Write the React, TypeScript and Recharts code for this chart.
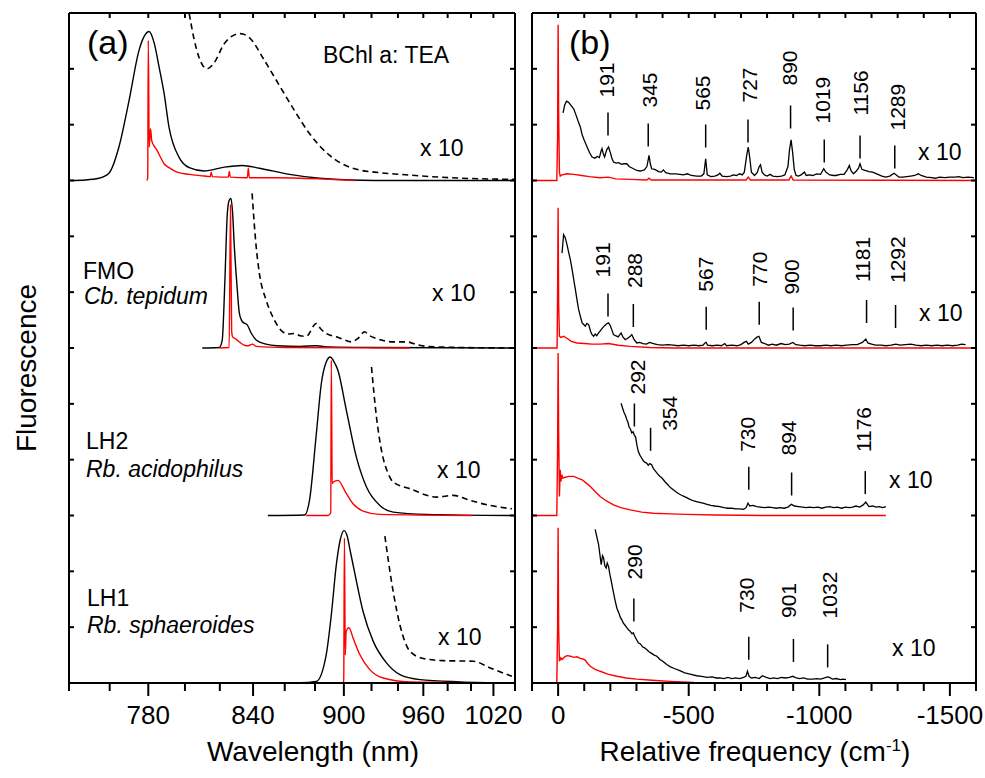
import React from "react"
import { LineChart, Line, XAxis, YAxis, ReferenceDot } from "recharts"

type Pt = [number, number]

const FONT = '"Liberation Sans", Arial, Helvetica, sans-serif'

// axis ticks
const nmTicks = [740, 760, 780, 800, 820, 840, 860, 880, 900, 920, 940, 960, 980, 1000, 1020, 1040]
const nmLabels = [780, 840, 900, 960, 1020]
const shiftTicks = [100, 0, -100, -200, -300, -400, -500, -600, -700, -800, -900, -1000, -1100, -1200, -1300, -1400, -1500, -1600]
const shiftLabels = [0, -500, -1000, -1500]
const yTicks = [0, 1, 2, 3, 4, 5, 6, 7, 8, 9, 10, 11, 12]

// (a) emission spectra, [wavelength nm, intensity]
const bchlSolid: Pt[] = [[739.5, 0], [748, 0.01], [754.6, 0.04], [759.6, 0.13], [764.7, 0.6], [769.9, 1.43], [775.1, 2.33], [777.8, 2.58], [780.4, 2.67], [783.1, 2.47], [785.8, 2.03], [788.5, 1.56], [791.2, 0.95], [796.8, 0.41], [802.4, 0.23], [810.9, 0.17], [822.6, 0.24], [833.4, 0.27], [843.9, 0.22], [863.1, 0.11], [883.1, 0.04], [904.1, 0.01], [941.5, 0], [1040, 0]]
const bchlX10: Pt[] = [[802.4, 2.99], [805, 2.55], [808, 2.2], [812.6, 2.0], [816.7, 2.11], [822.6, 2.45], [827, 2.58], [832.2, 2.63], [837.7, 2.56], [847.1, 2.15], [856.6, 1.7], [866.4, 1.25], [876.3, 0.84], [890, 0.45], [906.3, 0.22], [926.2, 0.14], [941.5, 0.11], [982, 0.05], [1039.5, 0.02]]
const bchlRed: Pt[] = [[779.3, 0], [779.7, 0.05], [780.0, 2.51], [780.5, 0.6], [781.2, 0.93], [781.8, 0.72], [783.1, 0.62], [784.7, 0.54], [786.5, 0.42], [788.5, 0.3], [791.2, 0.23], [795.6, 0.15], [802.4, 0.11], [810.9, 0.08], [814.4, 0.07], [815.0, 0.15], [815.6, 0.07], [825.0, 0.06], [825.6, 0.16], [826.2, 0.06], [836.5, 0.05], [837.1, 0.22], [837.7, 0.05], [853.4, 0.05], [883.1, 0.03], [907.7, 0]]

const fmoSolid: Pt[] = [[809.8, 0], [819.7, 0.01], [821.4, 0.14], [823.0, 1.22], [824.4, 2.4], [825.6, 2.65], [826.6, 2.68], [827.5, 2.45], [828.6, 1.82], [830.4, 1.04], [831.6, 0.63], [833.5, 0.47], [836.5, 0.41], [839.0, 0.26], [842.1, 0.14], [848, 0.07], [855, 0.04], [870, 0.03], [880.9, 0.04], [890, 0.02], [920, 0.01], [1040, 0]]
const fmoX10: Pt[] = [[839.4, 2.77], [841.9, 1.82], [843.9, 1.34], [848.1, 0.86], [852.3, 0.56], [858.7, 0.29], [862, 0.25], [866.4, 0.26], [870, 0.22], [874.1, 0.21], [880.9, 0.44], [884, 0.34], [887.7, 0.26], [894.7, 0.2], [900, 0.15], [905.4, 0.11], [910, 0.17], [915, 0.29], [918, 0.23], [923.7, 0.17], [936.3, 0.11], [946.7, 0.11], [955, 0.06], [962.7, 0.03], [990, 0.01], [1040, 0]]
const fmoRed: Pt[] = [[819.7, 0], [825.5, 0.01], [826.3, 2.56], [827.0, 0.3], [827.6, 0.2], [829.6, 0.16], [832, 0.1], [834.7, 0.05], [837, 0.04], [839.6, 0.07], [842, 0.03], [860, 0.01], [949.3, 0]]

const lh2Solid: Pt[] = [[849.2, 0], [873.0, 0.01], [876.3, 0.27], [880.9, 1.46], [884.3, 2.36], [887.7, 2.75], [890.5, 2.84], [892.5, 2.78], [895.8, 2.6], [901.8, 1.88], [909.0, 1.04], [916.3, 0.51], [926.2, 0.18], [936.3, 0.06], [962.7, 0.02], [1040, 0]]
const lh2X10: Pt[] = [[920.0, 2.66], [923.7, 1.76], [927.5, 1.16], [932.5, 0.75], [936.3, 0.6], [949.3, 0.48], [970.9, 0.33], [984.8, 0.36], [999.2, 0.27], [1017.0, 0.18], [1037.1, 0.12]]
const lh2Red: Pt[] = [[874.1, 0], [888.9, 0], [890.8, 0.05], [891.2, 2.78], [891.8, 0.57], [892.5, 0.6], [895.8, 0.63], [901.8, 0.39], [906.5, 0.21], [913.8, 0.08], [926.2, 0.02], [1000.7, 0]]

const lh1Solid: Pt[] = [[821.4, 0], [870, 0.005], [880.9, 0.03], [887.7, 0.51], [891.2, 1.22], [894.7, 2.12], [897.5, 2.57], [900.1, 2.73], [902.5, 2.62], [904.1, 2.42], [909.0, 1.82], [913.8, 1.28], [921.2, 0.75], [931.2, 0.36], [941.5, 0.15], [957.3, 0.06], [990.5, 0.02], [1040, 0]]
const lh1X10: Pt[] = [[930.0, 2.63], [936.3, 1.64], [941.5, 1.04], [949.3, 0.57], [959.9, 0.44], [976.4, 0.4], [1002.1, 0.39], [1017.0, 0.27], [1037.1, 0.12]]
const lh1Red: Pt[] = [[888.9, 0], [899.5, 0], [899.9, 0.05], [900.4, 2.6], [901.0, 0.5], [901.6, 0.92], [903.6, 0.99], [906.5, 0.81], [911.4, 0.51], [918.7, 0.24], [928.7, 0.09], [949.3, 0.02], [980, 0.01], [1018.6, 0]]

// (b) spectra vs relative frequency, [cm-1, intensity]
const bchlShift: Pt[] = [[-19, 1.21], [-25, 1.35], [-32, 1.42], [-40, 1.4], [-50, 1.34], [-60, 1.28], [-68, 1.18], [-76, 1.07], [-85, 0.96], [-92, 0.82], [-100, 0.72], [-111, 0.6], [-120, 0.5], [-130, 0.42], [-140, 0.4], [-150, 0.43], [-158, 0.41], [-164, 0.52], [-168, 0.57], [-173, 0.48], [-178, 0.42], [-186, 0.55], [-193, 0.6], [-200, 0.5], [-206, 0.4], [-212, 0.33], [-222, 0.31], [-232, 0.32], [-242, 0.29], [-252, 0.3], [-263, 0.3], [-272, 0.25], [-285, 0.22], [-301, 0.18], [-315, 0.17], [-330, 0.19], [-340, 0.25], [-348, 0.45], [-353, 0.3], [-358, 0.21], [-370, 0.2], [-385, 0.16], [-395, 0.15], [-403, 0.19], [-412, 0.14], [-430, 0.12], [-450, 0.12], [-466, 0.11], [-480, 0.1], [-495, 0.12], [-510, 0.09], [-530, 0.08], [-548, 0.08], [-558, 0.12], [-565, 0.39], [-571, 0.1], [-585, 0.07], [-600, 0.08], [-612, 0.1], [-619, 0.13], [-628, 0.08], [-645, 0.07], [-660, 0.08], [-670, 0.1], [-683, 0.09], [-695, 0.12], [-705, 0.1], [-713, 0.15], [-722, 0.45], [-728, 0.6], [-734, 0.4], [-740, 0.15], [-752, 0.09], [-762, 0.14], [-770, 0.25], [-775, 0.28], [-781, 0.15], [-790, 0.1], [-800, 0.08], [-812, 0.11], [-822, 0.08], [-840, 0.07], [-855, 0.08], [-868, 0.1], [-880, 0.25], [-886, 0.55], [-892, 0.73], [-898, 0.5], [-904, 0.2], [-911, 0.09], [-920, 0.08], [-930, 0.1], [-943, 0.15], [-950, 0.09], [-962, 0.1], [-975, 0.09], [-990, 0.12], [-1005, 0.11], [-1017, 0.21], [-1025, 0.15], [-1040, 0.1], [-1055, 0.09], [-1064, 0.09], [-1080, 0.11], [-1095, 0.11], [-1108, 0.2], [-1115, 0.27], [-1122, 0.17], [-1131, 0.12], [-1140, 0.16], [-1150, 0.22], [-1156, 0.3], [-1163, 0.2], [-1175, 0.18], [-1190, 0.16], [-1204, 0.15], [-1220, 0.12], [-1240, 0.08], [-1255, 0.06], [-1270, 0.08], [-1286, 0.13], [-1295, 0.1], [-1305, 0.06], [-1318, 0.06], [-1335, 0.07], [-1350, 0.08], [-1365, 0.09], [-1379, 0.12], [-1390, 0.09], [-1410, 0.06], [-1430, 0.05], [-1445, 0.04], [-1460, 0.06], [-1480, 0.05], [-1500, 0.06], [-1520, 0.06], [-1534, 0.07], [-1550, 0.05], [-1570, 0.06], [-1592, 0.05]]
const bchlShiftRed: Pt[] = [[100, 0], [5, 0], [2, 0.8], [0, 2.79], [-2, 1.2], [-5, 0.15], [-8, 0.08], [-15, 0.1], [-34, 0.12], [-60, 0.11], [-90, 0.09], [-120, 0.07], [-160, 0.05], [-193, 0.06], [-220, 0.03], [-276, 0.02], [-340, 0.01], [-348, 0.04], [-356, 0.01], [-720, 0.01], [-728, 0.06], [-736, 0.01], [-884, 0.01], [-892, 0.08], [-900, 0.01], [-1600, 0]]

const fmoShift: Pt[] = [[-15, 1.7], [-21, 2.03], [-27, 1.98], [-34, 1.85], [-40, 1.72], [-47, 1.58], [-53, 1.42], [-60, 1.22], [-66, 1.05], [-72, 0.87], [-78, 0.7], [-85, 0.57], [-92, 0.45], [-98, 0.42], [-104, 0.39], [-110, 0.44], [-117, 0.42], [-124, 0.3], [-130, 0.24], [-136, 0.21], [-142, 0.25], [-148, 0.22], [-155, 0.27], [-162, 0.31], [-170, 0.36], [-178, 0.4], [-185, 0.43], [-193, 0.45], [-200, 0.4], [-206, 0.32], [-212, 0.24], [-220, 0.22], [-230, 0.2], [-241, 0.27], [-248, 0.2], [-257, 0.15], [-265, 0.17], [-274, 0.2], [-282, 0.24], [-290, 0.16], [-301, 0.09], [-312, 0.1], [-325, 0.08], [-338, 0.07], [-350, 0.1], [-365, 0.08], [-380, 0.06], [-400, 0.05], [-420, 0.06], [-440, 0.05], [-460, 0.04], [-480, 0.05], [-500, 0.04], [-520, 0.05], [-540, 0.04], [-555, 0.05], [-562, 0.09], [-567, 0.1], [-572, 0.05], [-590, 0.04], [-610, 0.05], [-625, 0.04], [-638, 0.08], [-645, 0.04], [-665, 0.05], [-685, 0.04], [-700, 0.06], [-712, 0.1], [-721, 0.12], [-728, 0.07], [-740, 0.1], [-750, 0.15], [-760, 0.19], [-769, 0.21], [-778, 0.1], [-791, 0.08], [-805, 0.05], [-820, 0.07], [-835, 0.05], [-854, 0.08], [-870, 0.06], [-885, 0.07], [-899, 0.1], [-910, 0.06], [-925, 0.05], [-945, 0.04], [-965, 0.05], [-985, 0.04], [-1005, 0.04], [-1025, 0.05], [-1045, 0.04], [-1065, 0.05], [-1085, 0.04], [-1105, 0.05], [-1127, 0.06], [-1145, 0.06], [-1165, 0.1], [-1178, 0.16], [-1186, 0.09], [-1200, 0.07], [-1215, 0.05], [-1235, 0.05], [-1255, 0.04], [-1275, 0.05], [-1293, 0.07], [-1310, 0.05], [-1330, 0.06], [-1350, 0.07], [-1370, 0.05], [-1390, 0.04], [-1410, 0.05], [-1430, 0.04], [-1450, 0.05], [-1470, 0.04], [-1490, 0.05], [-1510, 0.04], [-1530, 0.05], [-1545, 0.07], [-1560, 0.06]]
const fmoShiftRed: Pt[] = [[100, 0], [4, 0], [2, 1.0], [0, 2.51], [-2, 0.8], [-5, 0.21], [-10, 0.19], [-21, 0.21], [-35, 0.17], [-50, 0.12], [-72, 0.09], [-100, 0.08], [-130, 0.07], [-161, 0.07], [-193, 0.08], [-230, 0.05], [-276, 0.03], [-350, 0.01], [-450, 0], [-1600, 0]]

const lh2Shift: Pt[] = [[-241, 2.01], [-247, 1.92], [-252, 1.85], [-257, 1.8], [-263, 1.72], [-268, 1.66], [-272, 1.58], [-277, 1.55], [-282, 1.48], [-287, 1.5], [-292, 1.44], [-297, 1.4], [-302, 1.25], [-307, 1.15], [-313, 1.08], [-320, 1.03], [-326, 0.98], [-333, 0.95], [-339, 0.94], [-345, 0.9], [-351, 0.93], [-358, 0.91], [-365, 0.84], [-372, 0.8], [-380, 0.75], [-390, 0.7], [-396, 0.68], [-403, 0.64], [-410, 0.6], [-420, 0.55], [-430, 0.5], [-441, 0.46], [-452, 0.42], [-465, 0.38], [-478, 0.35], [-492, 0.32], [-505, 0.29], [-520, 0.26], [-537, 0.24], [-555, 0.22], [-570, 0.2], [-585, 0.18], [-600, 0.17], [-619, 0.16], [-635, 0.14], [-650, 0.13], [-665, 0.13], [-680, 0.12], [-695, 0.12], [-710, 0.11], [-720, 0.14], [-727, 0.22], [-734, 0.17], [-746, 0.18], [-760, 0.16], [-775, 0.15], [-790, 0.14], [-805, 0.15], [-822, 0.14], [-835, 0.13], [-850, 0.14], [-865, 0.13], [-880, 0.15], [-893, 0.2], [-905, 0.17], [-920, 0.16], [-935, 0.15], [-950, 0.14], [-962, 0.15], [-978, 0.14], [-995, 0.15], [-1010, 0.13], [-1025, 0.15], [-1039, 0.16], [-1055, 0.14], [-1070, 0.15], [-1085, 0.13], [-1100, 0.15], [-1115, 0.14], [-1127, 0.15], [-1140, 0.17], [-1155, 0.15], [-1168, 0.19], [-1178, 0.24], [-1190, 0.16], [-1205, 0.17], [-1217, 0.15], [-1230, 0.16], [-1242, 0.14], [-1255, 0.16]]
const lh2ShiftRed: Pt[] = [[100, 0], [5, 0], [2, 1.2], [0, 2.91], [-2, 1.5], [-5, 0.34], [-8, 0.82], [-11, 0.61], [-14, 0.73], [-18, 0.67], [-25, 0.68], [-40, 0.7], [-60, 0.7], [-75, 0.67], [-92, 0.64], [-108, 0.58], [-123, 0.52], [-140, 0.44], [-161, 0.34], [-185, 0.26], [-212, 0.19], [-240, 0.14], [-276, 0.1], [-320, 0.06], [-365, 0.04], [-430, 0.03], [-492, 0.02], [-600, 0.01], [-800, 0], [-1255, 0]]

const lh1Shift: Pt[] = [[-142, 2.75], [-148, 2.62], [-155, 2.48], [-160, 2.3], [-165, 2.12], [-170, 2.28], [-174, 2.24], [-179, 2.1], [-184, 2.06], [-188, 2.15], [-193, 2.09], [-198, 1.95], [-202, 1.86], [-206, 1.76], [-212, 1.62], [-218, 1.48], [-225, 1.34], [-232, 1.26], [-238, 1.18], [-244, 1.13], [-250, 1.07], [-257, 1.03], [-263, 0.99], [-270, 0.95], [-277, 0.92], [-283, 0.88], [-288, 0.9], [-293, 0.84], [-300, 0.78], [-307, 0.72], [-315, 0.7], [-323, 0.65], [-331, 0.63], [-339, 0.6], [-348, 0.56], [-358, 0.53], [-368, 0.5], [-378, 0.48], [-390, 0.42], [-403, 0.38], [-416, 0.33], [-430, 0.29], [-445, 0.26], [-466, 0.22], [-485, 0.18], [-505, 0.16], [-530, 0.13], [-550, 0.12], [-570, 0.1], [-590, 0.11], [-605, 0.09], [-619, 0.09], [-635, 0.08], [-650, 0.1], [-665, 0.08], [-680, 0.09], [-695, 0.08], [-710, 0.1], [-719, 0.12], [-725, 0.21], [-731, 0.12], [-740, 0.09], [-755, 0.1], [-770, 0.08], [-782, 0.13], [-797, 0.1], [-812, 0.08], [-825, 0.09], [-840, 0.08], [-855, 0.1], [-870, 0.09], [-885, 0.1], [-899, 0.12], [-912, 0.09], [-925, 0.08], [-940, 0.09], [-955, 0.07], [-975, 0.07], [-990, 0.08], [-1005, 0.07], [-1020, 0.09], [-1032, 0.11], [-1039, 0.1], [-1050, 0.07], [-1065, 0.08], [-1080, 0.06], [-1092, 0.07], [-1102, 0.06]]
const lh1ShiftRed: Pt[] = [[100, 0], [5, 0], [2, 1.0], [0, 2.78], [-2, 1.0], [-5, 0.39], [-10, 0.45], [-15, 0.42], [-25, 0.47], [-34, 0.49], [-48, 0.48], [-60, 0.46], [-72, 0.47], [-85, 0.44], [-95, 0.43], [-104, 0.41], [-113, 0.35], [-123, 0.3], [-140, 0.25], [-161, 0.21], [-190, 0.16], [-225, 0.12], [-260, 0.09], [-301, 0.07], [-360, 0.05], [-428, 0.03], [-520, 0.01], [-619, 0.005], [-800, 0], [-1102, 0]]

// labelled vibrational modes (cm-1)
const bchlPeaks = [191, 345, 565, 727, 890, 1019, 1156, 1289]
const fmoPeaks = [191, 288, 567, 770, 900, 1181, 1292]
const lh2Peaks = [292, 354, 730, 894, 1176]
const lh1Peaks = [290, 730, 901, 1032]

// label placement: [mark bottom above baseline px, gap to text px, text x shift px]
const bchlPeakPos = [[45, 15, -2], [34, 16, 1], [33, 14, -3], [38, 17, 2], [52, 20, -1], [18, 16, -2], [22, 20, 0], [12, 15, 3]]
const fmoPeakPos = [[31.6, 16, -5], [21, 16, 1], [18.3, 15, -1], [23.3, 15, 0], [17.6, 13, -2], [25, 18, -4], [20, 22, 2]]
const lh2PeakPos = [[89, 9, 3], [64.7, -3, 19], [25.7, 15, -1], [20, 17, -3], [21.4, 19, -2]]
const lh1PeakPos = [[61.6, 19, 1], [23.3, 24, -2], [21, 21, -5], [15.6, 26, 2]]

const H = 778
const TOP = 13
const BOTTOM = 683
const Y_MAX = 12
const UNIT = (BOTTOM - TOP) / Y_MAX
const ROW_BASE = [9, 6, 3, 0]
const MARK_LEN = 23
const AXIS = { stroke: "#000", strokeWidth: 2 }

const toWn = (nm: number) => 1e7 / nm
const nmPts = (pts: Pt[], base: number) => pts.map(([nm, v]) => ({ wn: toWn(nm), v: v + base }))
const shiftPts = (pts: Pt[], base: number) => pts.map(([f, v]) => ({ f, v: v + base }))

const nmTick = (p: any) => {
  const nm = Math.round(1e7 / p.payload.value)
  const major = nmLabels.includes(nm)
  return (
    <g>
      <line x1={p.x} y1={p.y} x2={p.x} y2={p.y + (major ? 13 : 8)} stroke="#000" strokeWidth={2} />
      {major && (
        <text x={p.x} y={p.y + 41} textAnchor="middle" fontSize={26} fontFamily={FONT} fill="#000">
          {nm}
        </text>
      )}
    </g>
  )
}

const shiftTick = (p: any) => {
  const v = p.payload.value
  const major = shiftLabels.includes(v)
  return (
    <g>
      <line x1={p.x} y1={p.y} x2={p.x} y2={p.y + (major ? 13 : 8)} stroke="#000" strokeWidth={2} />
      {major && (
        <text x={p.x} y={p.y + 41} textAnchor="middle" fontSize={26} fontFamily={FONT} fill="#000">
          {String(v)}
        </text>
      )}
    </g>
  )
}

const topTick = (p: any) => <line x1={p.x} y1={p.y} x2={p.x} y2={p.y + 5} stroke="#000" strokeWidth={2} />
const leftTick = (p: any) => <line x1={p.x} y1={p.y} x2={p.x + 5} y2={p.y} stroke="#000" strokeWidth={2} />
const rightTick = (p: any) => <line x1={p.x} y1={p.y} x2={p.x - 5} y2={p.y} stroke="#000" strokeWidth={2} />

const peakMark = (label: number, gap: number, dx: number) => (p: any) => {
  const top = p.cy - MARK_LEN
  const tx = p.cx + dx
  const ty = top - gap
  return (
    <g>
      <line x1={p.cx} y1={p.cy} x2={p.cx} y2={top} stroke="#000" strokeWidth={1.5} />
      <text x={tx} y={ty} transform={`rotate(-90 ${tx} ${ty})`} fontSize={21} fontFamily={FONT} dominantBaseline="central" fill="#000">
        {label}
      </text>
    </g>
  )
}

const aRows = [
  { solid: bchlSolid, x10: bchlX10, red: bchlRed },
  { solid: fmoSolid, x10: fmoX10, red: fmoRed },
  { solid: lh2Solid, x10: lh2X10, red: lh2Red },
  { solid: lh1Solid, x10: lh1X10, red: lh1Red },
]

const bRows = [
  { black: bchlShift, red: bchlShiftRed, peaks: bchlPeaks, pos: bchlPeakPos },
  { black: fmoShift, red: fmoShiftRed, peaks: fmoPeaks, pos: fmoPeakPos },
  { black: lh2Shift, red: lh2ShiftRed, peaks: lh2Peaks, pos: lh2PeakPos },
  { black: lh1Shift, red: lh1ShiftRed, peaks: lh1Peaks, pos: lh1PeakPos },
]

// axes of 1px size, the frame lines sit on the plot edges
const frameAxes = (xKey: string, domain: number[], ticks: number[], bottomTick: any) => [
  <XAxis key="xb" xAxisId="b" type="number" dataKey={xKey} domain={domain} reversed allowDataOverflow ticks={ticks} interval={0} height={1} tickSize={0} tickMargin={0} tickLine={false} axisLine={AXIS} tick={bottomTick} />,
  <XAxis key="xt" xAxisId="t" orientation="top" type="number" dataKey={xKey} domain={domain} reversed allowDataOverflow ticks={ticks} interval={0} height={1} tickSize={0} tickMargin={0} tickLine={false} axisLine={AXIS} tick={topTick} />,
  <YAxis key="yl" yAxisId="l" type="number" domain={[0, Y_MAX]} allowDataOverflow ticks={yTicks} interval={0} width={1} tickSize={0} tickMargin={0} tickLine={false} axisLine={AXIS} tick={leftTick} />,
  <YAxis key="yr" yAxisId="r" orientation="right" type="number" domain={[0, Y_MAX]} allowDataOverflow ticks={yTicks} interval={0} width={1} tickSize={0} tickMargin={0} tickLine={false} axisLine={AXIS} tick={rightTick} />,
]

function PanelA() {
  const W = 530
  return (
    <LineChart width={W} height={H} margin={{ top: TOP - 1, right: W - 515 - 1, bottom: H - BOTTOM - 1, left: 69 - 1 }}>
      {frameAxes("wn", [toWn(1040), toWn(740)], nmTicks.map(toWn), nmTick)}
      {aRows.flatMap((r, i) => [
        <Line key={`s${i}`} xAxisId="b" yAxisId="l" data={nmPts(r.solid, ROW_BASE[i])} dataKey="v" type="monotone" stroke="#000" strokeWidth={1.4} dot={false} isAnimationActive={false} />,
        <Line key={`d${i}`} xAxisId="b" yAxisId="l" data={nmPts(r.x10, ROW_BASE[i])} dataKey="v" type="monotone" stroke="#000" strokeWidth={1.6} strokeDasharray="6 4" dot={false} isAnimationActive={false} />,
        <Line key={`r${i}`} xAxisId="b" yAxisId="l" data={nmPts(r.red, ROW_BASE[i])} dataKey="v" type="monotone" stroke="#ff0000" strokeWidth={1.4} dot={false} isAnimationActive={false} />,
      ])}
    </LineChart>
  )
}

function PanelB() {
  const W = 465
  return (
    <LineChart width={W} height={H} margin={{ top: TOP - 1, right: W - 456 - 1, bottom: H - BOTTOM - 1, left: 12 - 1 }}>
      {frameAxes("f", [-1600, 100], shiftTicks, shiftTick)}
      {bRows.flatMap((r, i) => [
        <Line key={`r${i}`} xAxisId="b" yAxisId="l" data={shiftPts(r.red, ROW_BASE[i])} dataKey="v" type="linear" stroke="#ff0000" strokeWidth={1.4} dot={false} isAnimationActive={false} />,
        <Line key={`k${i}`} xAxisId="b" yAxisId="l" data={shiftPts(r.black, ROW_BASE[i])} dataKey="v" type="linear" stroke="#000" strokeWidth={1.3} dot={false} isAnimationActive={false} />,
      ])}
      {bRows.flatMap((r, i) =>
        r.peaks.map((pk, j) => (
          <ReferenceDot key={`p${i}-${j}`} xAxisId="b" yAxisId="l" x={-pk} y={ROW_BASE[i] + r.pos[j][0] / UNIT} r={0} ifOverflow="visible" shape={peakMark(pk, r.pos[j][1], r.pos[j][2])} />
        ))
      )}
    </LineChart>
  )
}

function Txt({ x, y, size = 23, italic = false, children }: any) {
  return (
    <div style={{ position: "absolute", left: x, top: y, fontSize: size, lineHeight: 1, fontStyle: italic ? "italic" : "normal", whiteSpace: "nowrap", fontFamily: FONT, color: "#000" }}>
      {children}
    </div>
  )
}

export default function App() {
  return (
    <div style={{ position: "absolute", left: 0, top: 0, width: 985, height: H, background: "#fff", fontFamily: FONT }}>
      <div style={{ position: "absolute", left: 0, top: 0 }}>
        <PanelA />
      </div>
      <div style={{ position: "absolute", left: 520, top: 0 }}>
        <PanelB />
      </div>

      <Txt x={87} y={25} size={34}>(a)</Txt>
      <Txt x={569} y={25} size={34}>(b)</Txt>
      <Txt x={323} y={44}>BChl a: TEA</Txt>

      <Txt x={420} y={137}>x 10</Txt>
      <Txt x={83} y={260}>FMO</Txt>
      <Txt x={84} y={285} italic>Cb. tepidum</Txt>
      <Txt x={432} y={282}>x 10</Txt>
      <Txt x={86} y={430}>LH2</Txt>
      <Txt x={86} y={458} italic>Rb. acidophilus</Txt>
      <Txt x={437} y={459}>x 10</Txt>
      <Txt x={87} y={587}>LH1</Txt>
      <Txt x={87} y={614} italic>Rb. sphaeroides</Txt>
      <Txt x={438} y={626}>x 10</Txt>

      <Txt x={918} y={141}>x 10</Txt>
      <Txt x={919} y={302}>x 10</Txt>
      <Txt x={889} y={469}>x 10</Txt>
      <Txt x={892} y={637}>x 10</Txt>

      <div style={{ position: "absolute", left: 27 - 110, top: 368 - 14, width: 220, textAlign: "center", fontSize: 28, lineHeight: 1, transform: "rotate(-90deg)", fontFamily: FONT, whiteSpace: "nowrap" }}>
        Fluorescence
      </div>
      <div style={{ position: "absolute", left: 313 - 150, top: 738, width: 300, textAlign: "center", fontSize: 28, lineHeight: 1, fontFamily: FONT, whiteSpace: "nowrap" }}>
        Wavelength (nm)
      </div>
      <div style={{ position: "absolute", left: 755 - 200, top: 738, width: 400, textAlign: "center", fontSize: 28, lineHeight: 1, fontFamily: FONT, whiteSpace: "nowrap" }}>
        Relative frequency (cm<sup style={{ fontSize: 17, lineHeight: 0 }}>-1</sup>)
      </div>
    </div>
  )
}
